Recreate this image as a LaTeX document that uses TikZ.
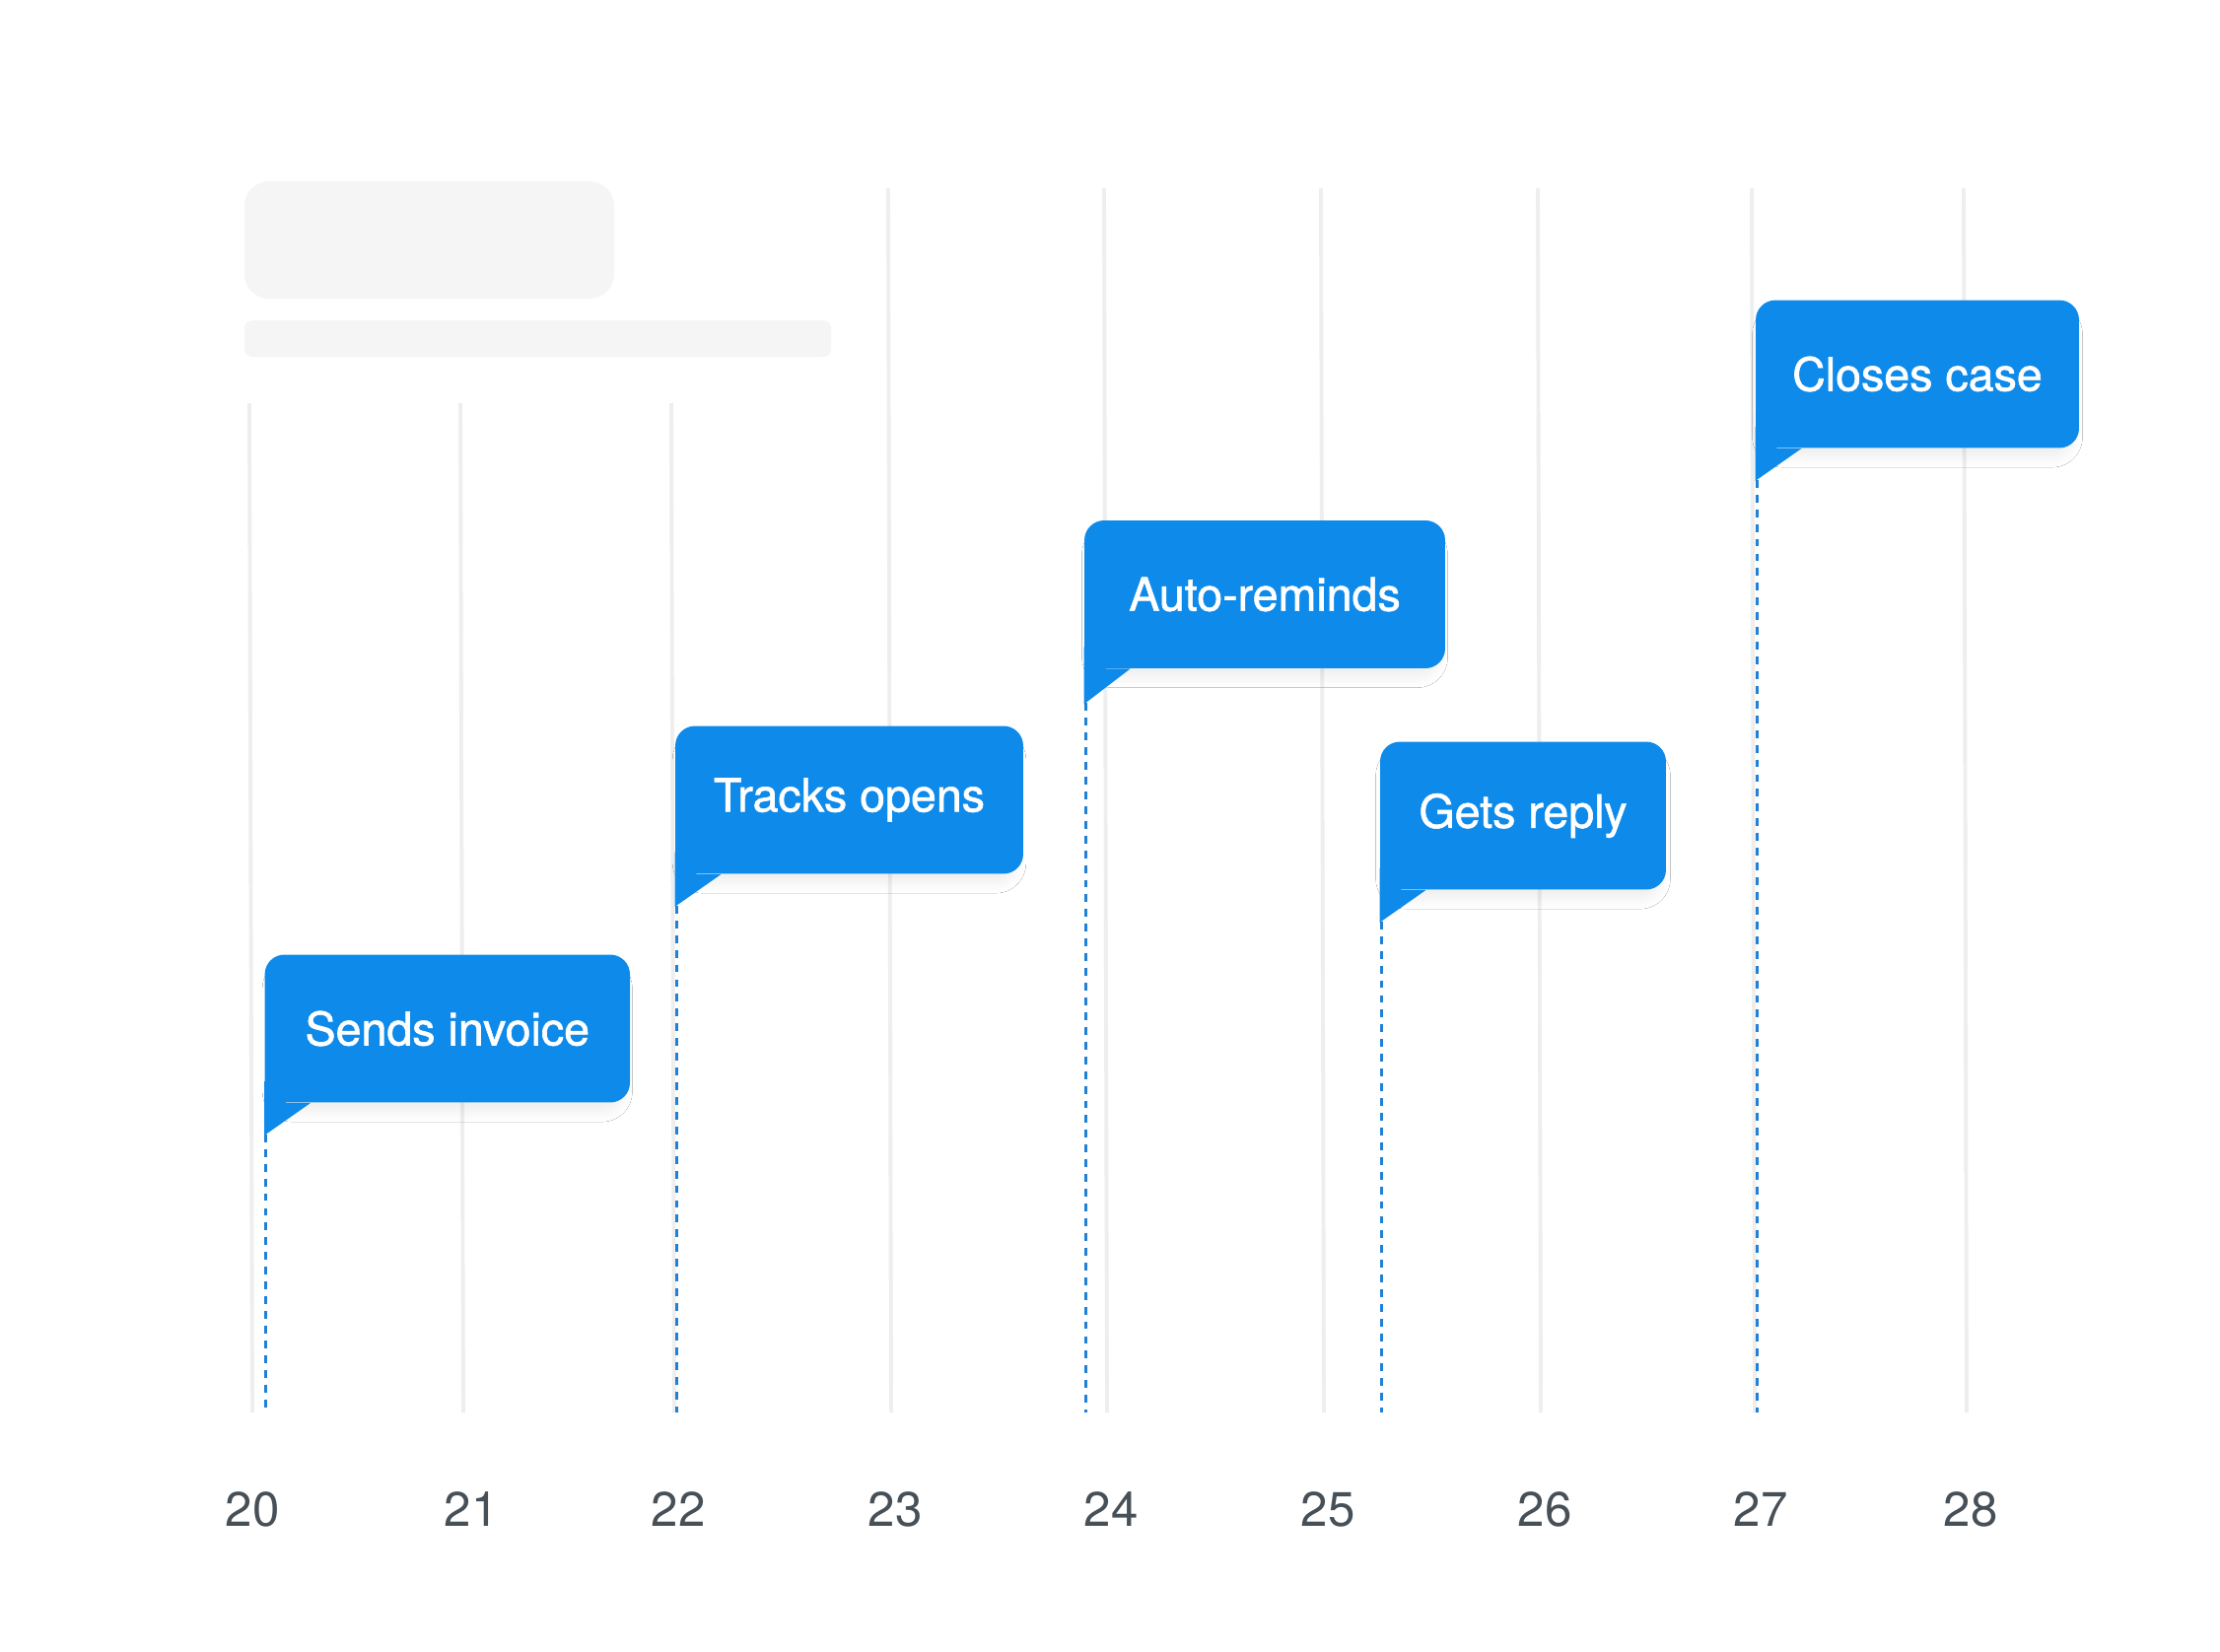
\documentclass[tikz,border=0pt]{standalone}
\usepackage{fontspec}
\setmainfont{TeX Gyre Heros}
\newfontfamily\bubblefont[FakeBold=1.3]{TeX Gyre Heros}
\usetikzlibrary{shadows.blur}
\definecolor{bubbleblue}{HTML}{0E8AEA}
\definecolor{tailblue}{HTML}{1F80D6}
\definecolor{gridgrey}{HTML}{EEEEEE}
\definecolor{skelgrey}{HTML}{F5F5F5}
\definecolor{daygrey}{HTML}{474F57}

\begin{document}
\begin{tikzpicture}[x=0.02cm, y=-0.02cm,
    dayline/.style={gridgrey, line width=2.2pt},
    tailline/.style={tailblue, line width=1.9pt, dash pattern=on 4.5pt off 4pt},
    bubble/.style={fill=bubbleblue, text=white, inner sep=0pt, minimum height=3cm,
        rounded corners=0.4cm, font=\bubblefont\fontsize{26.5}{30}\selectfont,
        blur shadow={shadow xshift=0pt, shadow yshift=-7pt, shadow scale=0.95,
            shadow opacity=8, shadow blur radius=7pt, shadow blur steps=20}},
    daylabel/.style={text=daygrey, font=\fontsize{28}{32}\selectfont}]
            \useasboundingbox (0,0) rectangle (2252,1676);
            \fill[white] (0,0) rectangle (2252,1676);

            % placeholder header
            \fill[skelgrey, rounded corners=0.5cm] (248,184) rectangle (623,303);
            \fill[skelgrey, rounded corners=0.16cm] (248,325) rectangle (843,362);

            % day columns
            \coordinate (base) at (0,1433);
            \draw[dayline] (253,409) -- (256,1433);
            \draw[dayline] (467,409) -- (470,1433);
            \draw[dayline] (681,409) -- (684,1433);
            \draw[dayline] (901,191) -- (904,1433);
            \draw[dayline] (1120,191) -- (1123,1433);
            \draw[dayline] (1340,191) -- (1343,1433);
            \draw[dayline] (1560,191) -- (1563,1433);
            \draw[dayline] (1777,191) -- (1780,1433);
            \draw[dayline] (1992,191) -- (1995,1433);

            \node[daylabel] (d20) at (256,1531) {20};
            \node[daylabel] (d21) at (478,1531) {21};
            \node[daylabel] (d22) at (688,1531) {22};
            \node[daylabel] (d23) at (908,1531) {23};
            \node[daylabel] (d24) at (1127,1531) {24};
            \node[daylabel] (d25) at (1347,1531) {25};
            \node[daylabel] (d26) at (1567,1531) {26};
            \node[daylabel] (d27) at (1786,1531) {27};
            \node[daylabel] (d28) at (1999,1531) {28};

            % event bubbles
            \node[bubble, minimum width=7.41cm] (sends) at (453.8,1043.5) {Sends invoice};
            \node[bubble, minimum width=7.06cm] (tracks) at (861.5,811.5) {Tracks opens};
            \node[bubble, minimum width=7.32cm] (auto) at (1283,603) {Auto-reminds};
            \node[bubble, minimum width=5.80cm] (gets) at (1545,827.5) {Gets reply};
            \node[bubble, minimum width=6.56cm] (closes) at (1945,379.5) {Closes case};

            \fill[bubbleblue] (sends.south west) ++(0,-22) -- ++(0,55) -- ++(47,-33) -- ++(-25,0) -- cycle;
            \fill[bubbleblue] (tracks.south west) ++(0,-22) -- ++(0,55) -- ++(47,-33) -- ++(-25,0) -- cycle;
            \fill[bubbleblue] (auto.south west) ++(0,-22) -- ++(0,58) -- ++(47,-36) -- ++(-25,0) -- cycle;
            \fill[bubbleblue] (gets.south west) ++(0,-22) -- ++(0,55) -- ++(47,-33) -- ++(-25,0) -- cycle;
            \fill[bubbleblue] (closes.south west) ++(0,-22) -- ++(0,55) -- ++(47,-33) -- ++(-25,0) -- cycle;

            \coordinate (sendsTip) at ([xshift=0.03cm, yshift=-0.64cm]sends.south west);
            \coordinate (tracksTip) at ([xshift=0.03cm, yshift=-0.64cm]tracks.south west);
            \coordinate (autoTip) at ([xshift=0.03cm, yshift=-0.70cm]auto.south west);
            \coordinate (getsTip) at ([xshift=0.03cm, yshift=-0.64cm]gets.south west);
            \coordinate (closesTip) at ([xshift=0.03cm, yshift=-0.64cm]closes.south west);

            \draw[tailline] (sendsTip) -- (sendsTip |- base);
            \draw[tailline] (tracksTip) -- (tracksTip |- base);
            \draw[tailline] (autoTip) -- (autoTip |- base);
            \draw[tailline] (getsTip) -- (getsTip |- base);
            \draw[tailline] (closesTip) -- (closesTip |- base);
        \end{tikzpicture}
\end{document}
